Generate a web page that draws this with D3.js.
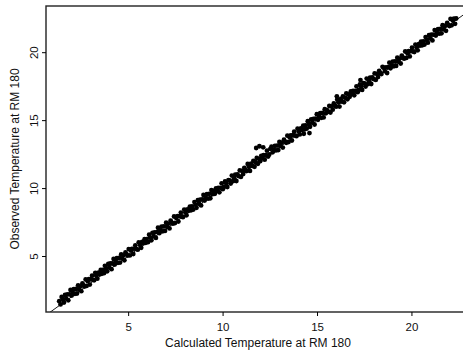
<!doctype html>
<head>
  <meta charset="utf-8">
  <title>Observed vs Calculated Temperature at RM 180</title>
  <script src="https://d3js.org/d3.v7.min.js"></script>
  <style>
    body { margin: 0; background: #fff; }
    text { font-family: "Liberation Sans", Arial, Helvetica, sans-serif; fill: #111; }
  </style>
</head>
<body>
<div id="chart"></div>
<script>
// calculated temperature (x) and observed temperature (y)
var calc = [
  1.35,1.42,1.48,1.55,1.6,1.66,1.72,1.78,1.83,1.9,1.95,2.01,2.07,2.12,2.18,2.24,2.29,2.35,2.41,2.46,2.52,2.58,2.63,2.69,2.75,2.8,2.86,2.92,2.97,
  3.03,3.09,3.14,3.2,3.26,3.31,3.37,3.43,3.48,3.55,3.6,3.66,3.72,3.77,3.83,3.89,3.95,4.0,4.06,4.12,4.17,4.23,4.29,4.35,4.4,4.46,4.52,4.57,4.63,4.69,4.74,4.8,4.86,4.92,4.97,
  5.03,5.09,5.15,5.2,5.27,5.33,5.38,5.45,5.51,5.56,5.63,5.69,5.74,5.81,5.87,5.93,5.98,6.05,6.11,6.16,6.23,6.29,6.35,6.4,6.47,6.53,6.58,6.65,6.71,6.77,6.83,6.89,6.95,7.01,7.07,7.13,
  7.19,7.25,7.3,7.37,7.43,7.48,7.55,7.61,7.66,7.73,7.79,7.85,7.9,7.97,8.03,8.09,8.14,8.21,8.27,8.33,8.38,8.45,8.51,8.57,8.62,8.69,8.75,8.81,8.86,8.93,8.99,9.05,9.11,9.17,9.23,9.29,9.35,9.41,9.47,9.53,
  9.59,9.65,9.71,9.77,9.83,9.89,9.95,10.01,10.07,10.13,10.19,10.25,10.31,10.37,10.43,10.49,10.55,10.61,10.67,10.73,10.79,10.85,10.91,10.97,11.03,11.09,11.15,11.21,11.27,11.33,11.39,11.45,11.51,11.57,11.63,11.69,11.75,11.81,11.87,11.93,11.99,12.05,12.11,12.17,12.23,12.29,12.35,12.41,12.47,12.53,
  11.78,11.95,12.15,
  12.59,12.65,12.71,12.77,12.83,12.89,12.95,13.01,13.07,13.13,13.19,13.25,13.31,13.37,13.43,13.49,13.55,13.61,13.67,13.73,13.79,13.85,13.91,13.97,14.03,14.09,14.15,14.21,14.27,14.33,14.39,14.45,14.51,14.57,14.63,14.69,14.75,14.81,14.87,14.93,14.99,15.05,15.11,15.17,15.23,15.29,15.35,15.41,15.47,
  14.3,14.6,
  15.53,15.59,15.65,15.71,15.77,15.83,15.89,15.95,16.01,16.07,16.13,16.19,16.25,16.31,16.37,16.43,16.49,16.55,16.61,16.67,16.73,16.79,16.85,16.91,16.97,17.03,17.09,17.15,17.21,17.27,17.33,17.39,17.45,17.51,17.57,17.63,17.69,17.75,17.81,17.87,17.93,17.99,18.05,18.11,18.17,18.23,18.29,18.35,18.41,18.47,
  16.05,17.3,
  18.53,18.59,18.65,18.71,18.77,18.83,18.89,18.95,19.01,19.07,19.13,19.19,19.25,19.31,19.37,19.43,19.49,19.55,19.61,19.67,19.73,19.79,19.85,19.91,19.97,20.03,20.09,20.15,20.21,20.27,20.33,20.39,20.45,20.51,20.57,20.63,20.69,20.75,20.81,20.87,20.93,20.99,21.05,21.11,21.17,21.23,21.29,21.35,21.41,21.47,21.53,21.59,21.65,21.71,21.77,21.83,21.89,21.95,22.01,22.07,22.13,22.19,22.25,22.31,22.37
];
var obs = [
  1.67,1.44,1.99,1.8,1.58,2.13,1.88,2.17,1.74,2.18,2.5,2.09,2.29,2.56,2.22,2.58,2.24,2.84,2.54,2.77,2.41,2.99,2.83,2.75,3.28,2.8,3.15,3.29,2.9,
  3.29,3.55,3.25,3.21,3.76,3.54,3.33,3.78,3.66,3.97,3.69,3.98,3.74,4.28,4.08,3.87,4.42,4.16,4.45,4.03,4.45,4.78,4.37,4.57,4.84,4.5,4.86,4.52,5.12,4.82,5.05,4.69,5.27,5.12,5.03,
  5.51,5.04,5.39,5.52,5.15,5.54,5.79,5.51,5.47,6.01,5.81,5.6,6.04,5.94,6.24,5.97,6.25,6.02,6.57,6.36,6.16,6.71,6.46,6.74,6.33,6.76,7.08,6.68,6.88,7.16,6.82,7.18,6.85,7.45,7.15,7.39,
  7.03,7.61,7.45,7.38,7.91,7.43,7.79,7.93,7.54,7.94,8.2,7.91,7.86,8.42,8.21,8.0,8.44,8.34,8.64,8.37,8.65,8.42,8.97,8.77,8.55,9.11,8.86,9.15,8.72,9.16,9.49,9.08,9.28,9.56,9.22,9.58,9.25,9.85,9.55,9.79,
  9.58,9.97,9.79,10.02,9.69,10.02,10.35,9.92,10.08,10.49,10.35,10.08,10.58,10.56,10.33,10.92,10.51,10.71,10.98,10.52,11.0,10.88,11.3,10.82,11.27,11.03,11.49,11.33,11.25,11.78,11.57,11.26,11.8,11.63,12.0,11.57,11.9,12.22,11.79,12.15,11.98,12.37,12.19,12.42,12.09,12.42,12.75,12.32,12.48,12.89,
  12.95,13.08,13.0,
  13.04,12.63,12.83,13.11,12.77,13.13,12.8,13.4,13.1,13.34,12.98,13.56,13.41,13.33,13.86,13.39,13.74,13.88,13.5,13.89,14.15,13.86,13.82,14.37,14.16,13.95,14.4,14.29,14.59,14.32,14.61,14.37,14.92,14.72,14.51,15.06,14.81,15.1,14.68,15.11,15.44,15.03,15.23,15.51,15.17,15.53,15.2,15.8,15.5,
  14.0,14.05,
  15.74,15.62,16.04,15.56,16.01,15.77,16.23,16.07,15.99,16.52,16.31,16.0,16.54,16.37,16.74,16.31,16.64,16.96,16.53,16.89,16.72,17.11,16.93,17.16,16.83,17.16,17.49,17.06,17.22,17.63,17.49,17.22,17.72,17.7,17.47,18.06,17.65,17.85,18.12,17.66,18.14,18.02,18.44,17.96,18.41,18.17,18.63,18.47,18.39,18.92,
  16.75,17.95,
  18.85,18.6,18.89,18.47,18.9,19.23,18.82,19.02,19.3,18.96,19.32,18.99,19.59,19.29,19.53,19.17,19.75,19.6,19.52,20.05,19.58,19.93,20.07,19.69,20.08,20.34,20.05,20.01,20.56,20.35,20.14,20.59,20.48,20.78,20.51,20.8,20.56,21.11,20.91,20.7,21.25,21.0,21.29,20.87,21.3,21.63,21.22,21.42,21.7,21.36,21.72,21.39,21.99,21.69,21.93,21.57,22.15,22.0,21.92,22.45,21.98,22.33,22.47,22.09,22.48
];
var tickVals = [5, 10, 15, 20];
var xTitle = "Calculated Temperature at RM 180";
var yTitle = "Observed Temperature at RM 180";

var width = 463, height = 356;
var plotL = 46, plotT = 6, plotB = 312, plotR = 470;

var svg = d3.select("#chart").append("svg")
  .attr("width", width)
  .attr("height", height);

var x = d3.scaleLinear().domain([0.65, 23.1]).range([plotL, plotR]);
var y = d3.scaleLinear().domain([0.88, 23.4]).range([plotB, plotT]);

svg.append("clipPath").attr("id", "plotclip")
  .append("rect")
    .attr("x", plotL).attr("y", plotT)
    .attr("width", plotR - plotL).attr("height", plotB - plotT);

// points
var data = calc.map(function(c, i) { return {calc: c, obs: obs[i]}; });
svg.append("g")
  .attr("clip-path", "url(#plotclip)")
  .selectAll("circle")
  .data(data)
  .enter()
  .append("circle")
    .attr("cx", function(d) { return x(d.calc); })
    .attr("cy", function(d) { return y(d.obs); })
    .attr("r", 2.4)
    .style("fill", "#000");

// 1:1 line
svg.append("line")
  .attr("clip-path", "url(#plotclip)")
  .attr("x1", x(0)).attr("y1", y(0))
  .attr("x2", x(24)).attr("y2", y(24))
  .style("stroke", "#000")
  .style("stroke-width", 0.9);

// frame
svg.append("rect")
  .attr("x", plotL).attr("y", plotT)
  .attr("width", plotR - plotL).attr("height", plotB - plotT)
  .style("fill", "none")
  .style("stroke", "#222")
  .style("stroke-width", 1.4);

// x axis
var gx = svg.append("g")
  .attr("transform", "translate(0," + plotB + ")")
  .call(d3.axisBottom(x).tickValues(tickVals).tickSize(4).tickPadding(7));
gx.select(".domain").remove();
gx.selectAll("text").style("font-size", "11.5px").style("font-family", null);

// y axis, labels parallel to the axis
var gy = svg.append("g")
  .attr("transform", "translate(" + plotL + ",0)")
  .call(d3.axisLeft(y).tickValues(tickVals).tickSize(4));
gy.select(".domain").remove();
gy.selectAll("text")
  .attr("transform", "rotate(-90)")
  .attr("x", 0)
  .attr("y", -8)
  .attr("dy", null)
  .style("text-anchor", "middle")
  .style("font-size", "11.5px")
  .style("font-family", null);

svg.append("text")
  .attr("x", (plotL + plotR) / 2)
  .attr("y", 347)
  .style("text-anchor", "middle")
  .style("font-size", "12px")
  .text(xTitle);

svg.append("text")
  .attr("transform", "translate(19," + (plotT + plotB) / 2 + ") rotate(-90)")
  .style("text-anchor", "middle")
  .style("font-size", "12px")
  .text(yTitle);
</script>
</body>
